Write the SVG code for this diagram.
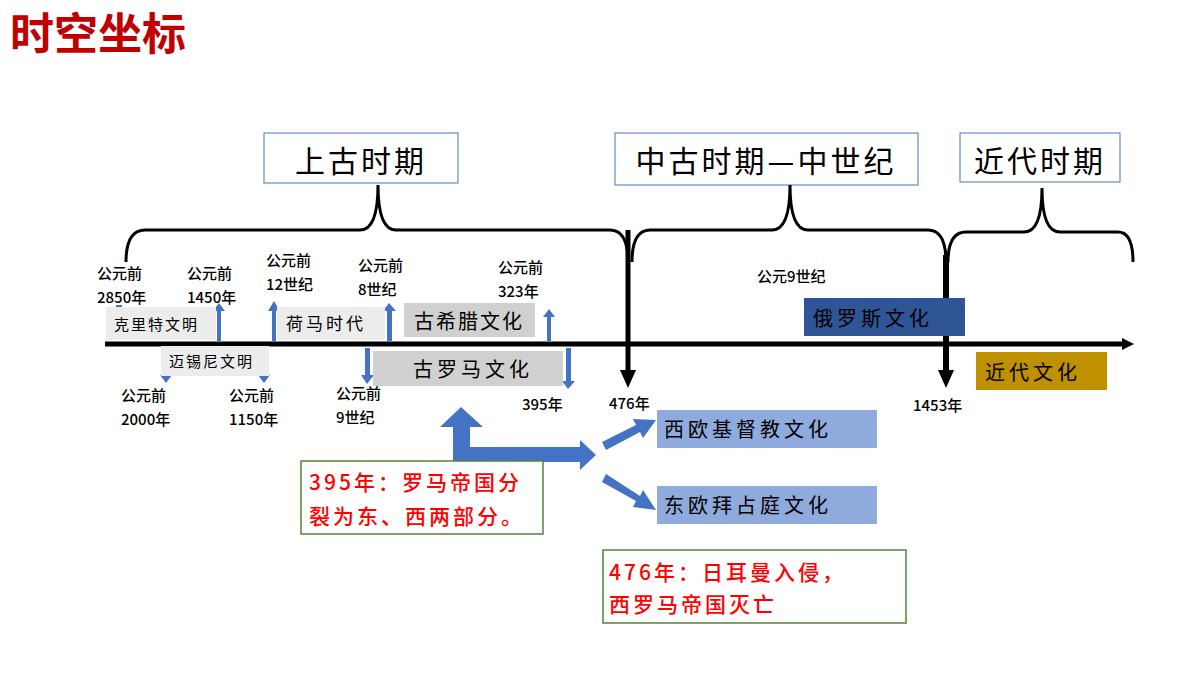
<svg xmlns="http://www.w3.org/2000/svg" width="1200" height="675" viewBox="0 0 1200 675">
<defs>
<style>
text{font-family:"Noto Sans CJK SC","Liberation Sans",sans-serif;fill:#000}
.lbl{font-size:15px;font-weight:500}
.per{font-size:30px;text-anchor:middle;letter-spacing:3px}
.pbox{fill:#fff;stroke:#4472c4;stroke-width:1}
.brace{fill:none;stroke:#000;stroke-width:3}
.ba{fill:#4472c4}
.grey{fill:#d0d0d0}
.lgrey{fill:#ececec}
.cul{font-size:20px;letter-spacing:4px}
.red{fill:#ff0000;font-size:21px;letter-spacing:3px;font-weight:500}
.note{fill:#fff;stroke:#548235;stroke-width:1.5}
</style>
</defs>
<rect width="1200" height="675" fill="#fff"/>
<text x="10" y="50" style="font-size:44px;fill:#c00000;font-weight:bold">时空坐标</text>
<g id="periods">
<rect class="pbox" x="264" y="133" width="194" height="50"/><text class="per" x="361" y="172">上古时期</text>
<rect class="pbox" x="615" y="133" width="303" height="52"/><text class="per" x="766" y="172">中古时期—中世纪</text>
<rect class="pbox" x="960" y="133" width="160" height="49"/><text class="per" x="1040" y="172">近代时期</text>
</g>
<g id="braces">
<path class="brace" d="M126,262 Q126,230 145,230 L360,230 Q378,230 378,185 Q378,230 396,230 L610,230 Q628,230 628,262"/>
<path class="brace" d="M632,262 Q632,230 650,230 L772,230 Q790,230 790,185 Q790,230 808,230 L928,230 Q946,230 946,262"/>
<path class="brace" d="M948,262 Q948,232 966,232 L1024,232 Q1042,232 1042,188 Q1042,232 1060,232 L1118,232 Q1133,232 1133,262"/>
</g>
<g id="connectors">
<line x1="105" y1="344" x2="1124" y2="344" stroke="#000" stroke-width="5"/>
<polygon points="1122,338 1134,344 1122,350" fill="#000"/>
<line x1="628" y1="230" x2="628" y2="372" stroke="#000" stroke-width="5"/>
<polygon points="620,370 636,370 628,388" fill="#000"/>
<line x1="946" y1="255" x2="946" y2="372" stroke="#000" stroke-width="6"/>
<polygon points="938,370 954,370 946,388" fill="#000"/>
<rect class="ba" x="116" y="305" width="6" height="4"/>
<rect class="ba" x="116" y="336" width="6" height="3"/>
<rect class="ba" x="217" y="310" width="4" height="31"/><polygon class="ba" points="213,311 225,311 219,303"/>
<rect class="ba" x="272" y="310" width="4" height="31"/><polygon class="ba" points="268,311 280,311 274,301"/>
<rect class="ba" x="387" y="310" width="5" height="31"/><polygon class="ba" points="383,311 396,311 389,303"/>
<rect class="ba" x="547" y="316" width="4" height="25"/><polygon class="ba" points="543,317 555,317 549,309"/>
<rect class="ba" x="365" y="348" width="5" height="28"/><polygon class="ba" points="361,375 374,375 367,384"/>
<rect class="ba" x="566" y="348" width="5" height="34"/><polygon class="ba" points="562,381 575,381 568,389"/>
<polygon class="ba" points="160,375 172,375 166,383"/>
<polygon class="ba" points="258,375 270,375 264,383"/>
<polygon class="ba" points="453,462 453,427 440,427 461,407 483,427 470,427 470,447 580,447 580,440 596,455 580,470 580,462"/>
<polygon class="ba" points="602,442 636,425 633,419 656,420 643,438 640,432 606,450"/>
<polygon class="ba" points="602,482 636,501 633,507 656,510 643,490 640,496 606,474"/>
</g>
<g id="labels">
<text class="lbl" x="97" y="279">公元前</text><text class="lbl" x="97" y="303">2850年</text>
<text class="lbl" x="187" y="279">公元前</text><text class="lbl" x="187" y="303">1450年</text>
<text class="lbl" x="266" y="266">公元前</text><text class="lbl" x="266" y="290">12世纪</text>
<text class="lbl" x="358" y="271">公元前</text><text class="lbl" x="358" y="295">8世纪</text>
<text class="lbl" x="498" y="273">公元前</text><text class="lbl" x="498" y="297">323年</text>
<text class="lbl" x="121" y="401">公元前</text><text class="lbl" x="121" y="425">2000年</text>
<text class="lbl" x="229" y="401">公元前</text><text class="lbl" x="229" y="425">1150年</text>
<text class="lbl" x="336" y="399">公元前</text><text class="lbl" x="336" y="423">9世纪</text>
<text class="lbl" x="522" y="410">395年</text>
<text class="lbl" x="609" y="409">476年</text>
<text class="lbl" x="757" y="282">公元9世纪</text>
<text class="lbl" x="913" y="411">1453年</text>
</g>
<g id="cultures">
<rect class="lgrey" x="106" y="307" width="110" height="33"/><text x="114" y="330" style="font-size:15px;letter-spacing:2px">克里特文明</text>
<rect class="lgrey" x="161" y="346" width="108" height="30"/><text x="169" y="367" style="font-size:15px;letter-spacing:2px">迈锡尼文明</text>
<rect class="lgrey" x="277" y="307" width="108" height="33"/><text x="286" y="330" style="font-size:17px;letter-spacing:3px">荷马时代</text>
<rect class="grey" x="404" y="303" width="131" height="34"/><text class="cul" x="414" y="329" style="letter-spacing:2px">古希腊文化</text>
<rect class="grey" x="373" y="351" width="190" height="35"/><text class="cul" x="413" y="377">古罗马文化</text>
<rect x="804" y="298" width="161" height="38" fill="#2f5597"/><text class="cul" x="813" y="326">俄罗斯文化</text>
<rect x="976" y="352" width="131" height="38" fill="#bf9000"/><text class="cul" x="985" y="380">近代文化</text>
<rect x="657" y="410" width="220" height="38" fill="#8faadc"/><text class="cul" x="664" y="437">西欧基督教文化</text>
<rect x="657" y="486" width="220" height="38" fill="#8faadc"/><text class="cul" x="664" y="513">东欧拜占庭文化</text>
</g>
<g id="notes">
<rect class="note" x="301" y="461" width="242" height="73"/>
<text class="red" x="309" y="490">395年：罗马帝国分</text>
<text class="red" x="309" y="524">裂为东、西两部分。</text>
<rect class="note" x="603" y="550" width="303" height="73"/>
<text class="red" x="609" y="580">476年：日耳曼入侵，</text>
<text class="red" x="609" y="612">西罗马帝国灭亡</text>
</g>
</svg>
